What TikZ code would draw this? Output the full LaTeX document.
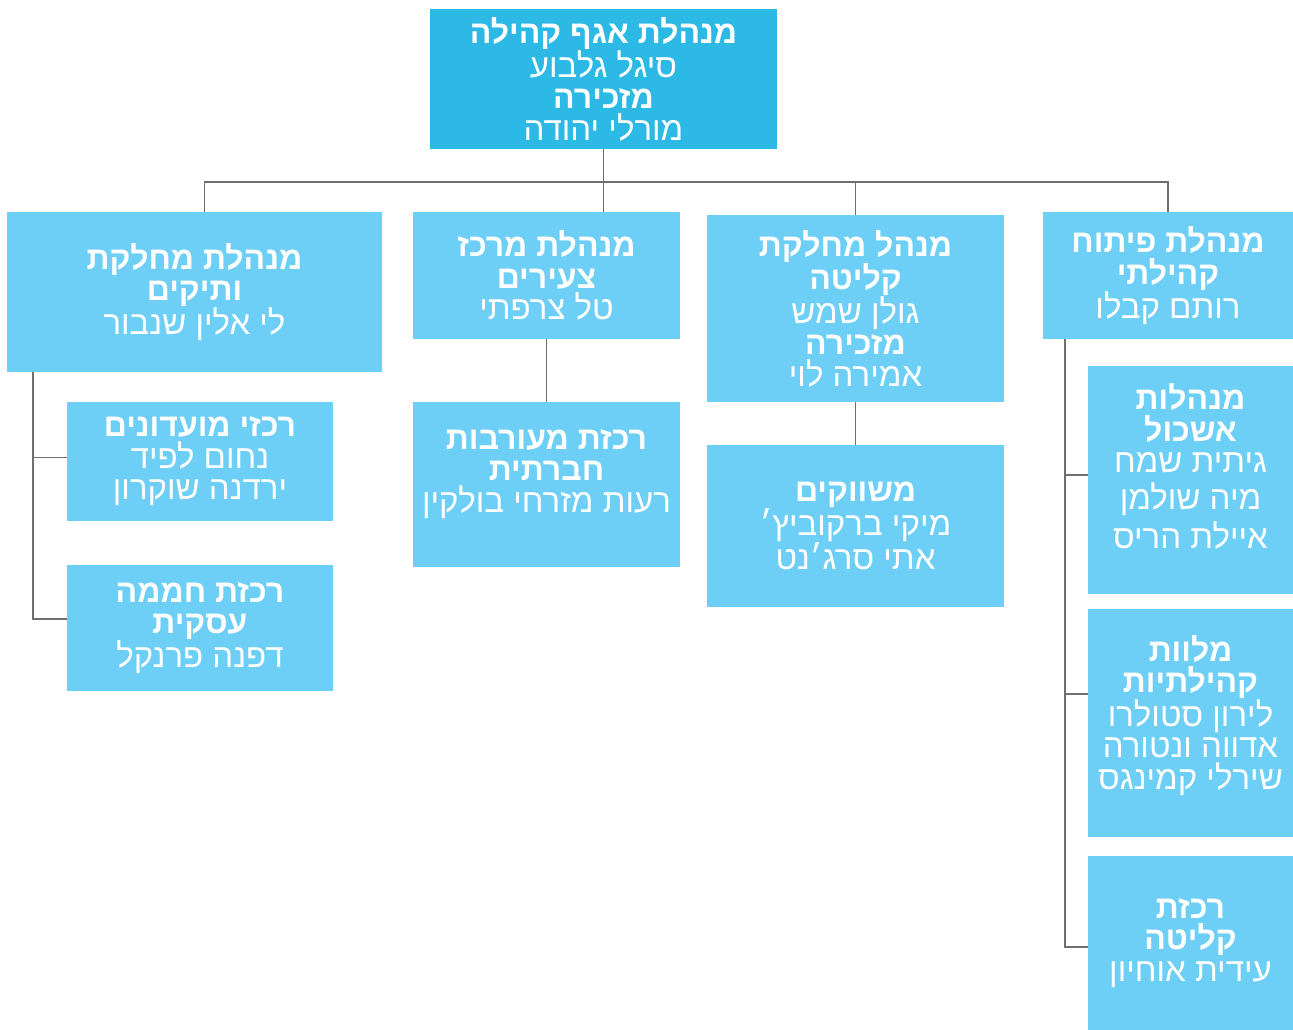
\documentclass[tikz,border=0pt]{standalone}
\usepackage{fontspec}
\newfontfamily\hebfont[Script=Hebrew]{Liberation Sans}
\TeXXeTstate=1
\newcommand{\TitleLine}[1]{{\hebfont\fontsize{32}{31.5}\selectfont\bfseries\beginR #1\endR}}
\newcommand{\NameLine}[1]{{\hebfont\beginR #1\endR}}
\definecolor{headblue}{RGB}{45,185,230}
\definecolor{unitblue}{RGB}{109,207,246}
\definecolor{wiregray}{RGB}{110,110,110}
\tikzset{
	unitbox/.style={fill=unitblue, text=white, inner sep=0pt, align=center,
		font=\fontsize{33}{31.5}\selectfont},
	headbox/.style={unitbox, fill=headblue},
	wire/.style={draw=wiregray, line width=1.4pt}
}
\begin{document}
\begin{tikzpicture}[x=1pt,y=-1pt]
			\def\BusY{182}
			\def\SideX{26pt}
			\useasboundingbox (0,0) rectangle (1293,1030);
				\node[headbox, minimum width=347pt, minimum height=140pt] (head) at (603.5,79)
					{\TitleLine{מנהלת אגף קהילה}\\ \NameLine{סיגל גלבוע}\\ \TitleLine{מזכירה}\\ \NameLine{מורלי יהודה}};
				\node[unitbox, minimum width=375pt, minimum height=160pt] (vatikim) at (194.5,292)
					{\TitleLine{מנהלת מחלקת}\\ \TitleLine{ותיקים}\\ \NameLine{לי אלין שנבור}};
				\node[unitbox, minimum width=267pt, minimum height=127pt] (tzeirim) at (546.5,275.5)
					{\TitleLine{מנהלת מרכז}\\ \TitleLine{צעירים}\\ \NameLine{טל צרפתי}};
				\node[unitbox, minimum width=297pt, minimum height=187pt] (klita) at (855.5,308.5)
					{\TitleLine{מנהל מחלקת}\\ \TitleLine{קליטה}\\ \NameLine{גולן שמש}\\ \TitleLine{מזכירה}\\ \NameLine{אמירה לוי}};
				\node[unitbox, minimum width=250pt, minimum height=127pt] (pituach) at (1168,275.5)
					{\TitleLine{מנהלת פיתוח}\\ \TitleLine{קהילתי}\\ \NameLine{רותם קבלו}};
				\node[unitbox, minimum width=266pt, minimum height=119pt] (moadonim) at (200,461.5)
					{\TitleLine{רכזי מועדונים}\\ \NameLine{נחום לפיד}\\ \NameLine{ירדנה שוקרון}};
				\node[unitbox, minimum width=266pt, minimum height=126pt] (chamama) at (200,628)
					{\TitleLine{רכזת חממה}\\ \TitleLine{עסקית}\\ \NameLine{דפנה פרנקל}};
				\node[unitbox, minimum width=267pt, minimum height=165pt] (meoravut) at (546.5,484.5)
					{\TitleLine{רכזת מעורבות}\\ \TitleLine{חברתית}\\ \NameLine{רעות מזרחי בולקין}\\[-4pt]};
				\node[unitbox, minimum width=297pt, minimum height=162pt] (meshavkim) at (855.5,526)
					{\TitleLine{משווקים}\\ \NameLine{מיקי ברקוביץ׳}\\ \NameLine{אתי סרג׳נט}};
				\node[unitbox, minimum width=205pt, minimum height=228pt] (ashkol) at (1190.5,480)
					{\TitleLine{מנהלות}\\ \TitleLine{אשכול}\\ \NameLine{גיתית שמח}\\[5pt] \NameLine{מיה שולמן}\\[5pt] \NameLine{איילת הריס}\\[-4pt]};
				\node[unitbox, minimum width=205pt, minimum height=228pt] (melavot) at (1190.5,723)
					{\TitleLine{מלוות}\\ \TitleLine{קהילתיות}\\ \NameLine{לירון סטולרו}\\ \NameLine{אדווה ונטורה}\\ \NameLine{שירלי קמינגס}\\[-10pt]};
				\node[unitbox, minimum width=205pt, minimum height=174pt] (rakezet) at (1190.5,943)
					{\TitleLine{רכזת}\\ \TitleLine{קליטה}\\ \NameLine{עידית אוחיון}};
				\coordinate (bus) at (0,\BusY);
				\coordinate (spineL) at ([xshift=\SideX]vatikim.south west);
				\coordinate (spineR) at ([xshift=22pt]pituach.south west);
				\coordinate (moadonimTap) at ([yshift=4pt]moadonim.west);
				\coordinate (chamamaTap) at ([yshift=9pt]chamama.west);
				\coordinate (ashkolTap) at ([yshift=5pt]ashkol.west);
				\coordinate (melavotTap) at ([yshift=29pt]melavot.west);
				\coordinate (rakezetTap) at ([yshift=-4pt]rakezet.west);
				\draw[wire] (head.south) -- (head.south |- tzeirim.north);
				\draw[wire] ([xshift=10pt]vatikim.north) |- (bus -| pituach.north) -- (pituach.north);
				\draw[wire] (klita.north) -- (klita.north |- bus);
				\draw[wire] (spineL) |- (chamamaTap);
				\draw[wire] (spineL |- moadonimTap) -- (moadonimTap);
				\draw[wire] (tzeirim.south) -- (meoravut.north);
				\draw[wire] (klita.south) -- (meshavkim.north);
				\draw[wire] (spineR) |- (rakezetTap);
				\draw[wire] (spineR |- ashkolTap) -- (ashkolTap);
				\draw[wire] (spineR |- melavotTap) -- (melavotTap);
		\end{tikzpicture}
\end{document}
